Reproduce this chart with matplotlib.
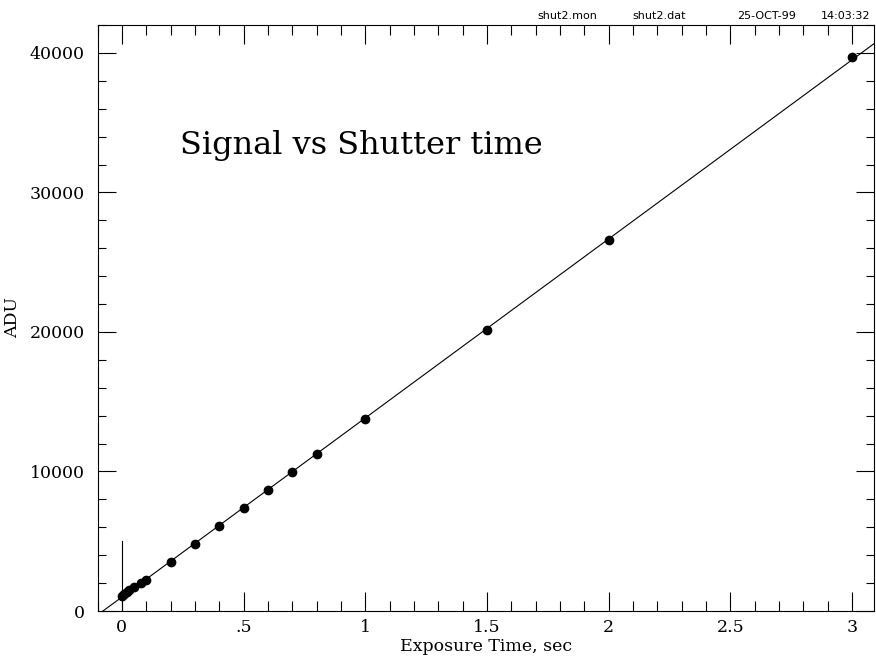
"""Signal vs shutter time: ADU against exposure time with a linear fit."""

import numpy as np
import matplotlib
matplotlib.use("Agg")
import matplotlib.pyplot as plt
import matplotlib.ticker as mticker

# ── data ──────────────────────────────────────────────────────────────────────
exposure_s = [0.0, 0.01, 0.02, 0.03, 0.05, 0.08, 0.1, 0.2, 0.3, 0.4,
              0.5, 0.6, 0.7, 0.8, 1.0, 1.5, 2.0, 3.0]
adu        = [1100, 1230, 1350, 1480, 1700, 1980, 2250, 3530, 4800, 6110,
              7380, 8640, 9930, 11220, 13730, 20130, 26580, 39710]

x_ticks       = [0, 0.5, 1, 1.5, 2, 2.5, 3]
x_tick_labels = ["0", ".5", "1", "1.5", "2", "2.5", "3"]
y_ticks       = [0, 10000, 20000, 30000, 40000]

header = ["shut2.mon", "shut2.dat", "25-OCT-99", "14:03:32"]
header_x = [0.605, 0.723, 0.861, 0.964]   # axes fraction, centre of each item

marker_height = 5000   # short vertical line drawn at t = 0

plt.rcParams["font.family"] = ["DejaVu Serif"]

fig = plt.figure(figsize=(8.76, 6.61), dpi=100)
ax = fig.add_axes([97.5 / 876, 50 / 661, 776.5 / 876, 586 / 661])

# linear fit through the points
slope, icpt = np.polyfit(exposure_s, adu, 1)
xfit = np.array([-0.2, 3.3])
ax.plot(xfit, icpt + slope * xfit, color="black", lw=0.8)

ax.plot(exposure_s, adu, "o", color="black", ms=6)
ax.plot([0, 0], [0, marker_height], color="black", lw=0.8)

ax.set_xlim(-0.1, 3.09)
ax.set_ylim(0, 42000)

ax.set_xticks(x_ticks)
ax.set_xticklabels(x_tick_labels)
ax.xaxis.set_minor_locator(mticker.MultipleLocator(0.1))
ax.set_yticks(y_ticks)
ax.yaxis.set_minor_locator(mticker.MultipleLocator(2000))

ax.tick_params(which="both", direction="in", top=True, right=True,
               width=0.8, labelsize=12.5, colors="black")
ax.tick_params(which="major", length=14)
ax.tick_params(which="minor", length=7)
ax.tick_params(axis="y", which="major", length=13, pad=9)
ax.tick_params(axis="y", which="minor", length=6)
ax.tick_params(axis="x", pad=6)

for s in ax.spines.values():
    s.set_linewidth(0.8)

ax.set_xlabel("Exposure Time, sec", fontsize=12.5, labelpad=1)
ax.set_ylabel("ADU", fontsize=12.5, labelpad=6)

ax.text(0.106, 0.795, "Signal vs Shutter time", transform=ax.transAxes,
        fontsize=23, ha="left", va="center", fontweight="light")

for lbl, hx in zip(header, header_x):
    ax.text(hx, 1.006, lbl, transform=ax.transAxes, fontsize=8,
            family="DejaVu Sans", ha="center", va="bottom")

fig.savefig("out.png", dpi=100)
